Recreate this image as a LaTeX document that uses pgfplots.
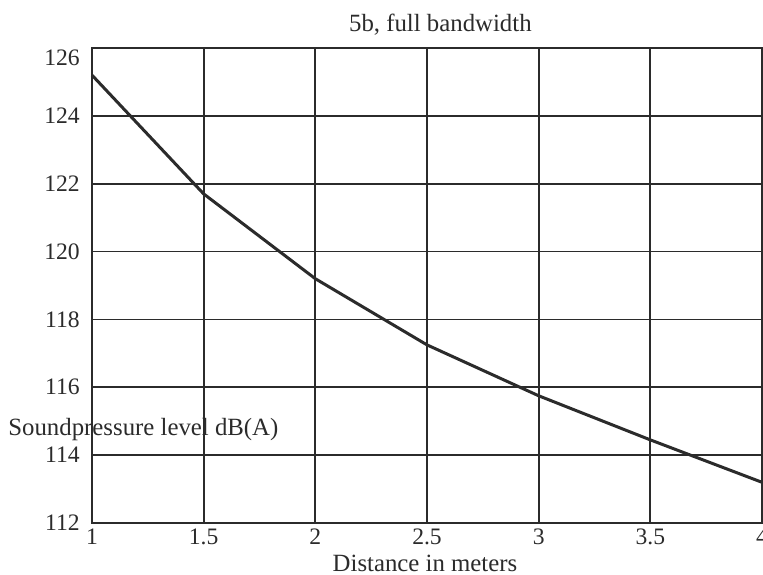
\documentclass[border=0pt]{standalone}
\usepackage{fontspec}
\setmainfont{Liberation Serif}
\usepackage{pgfplots}
\pgfplotsset{compat=1.18}
\usetikzlibrary{calc}

\definecolor{ink}{HTML}{2B2B2B}

\begin{document}
\fontsize{11.8}{14}\selectfont
\begin{tikzpicture}
\begin{axis}[
  name=ax,
  scale only axis,
  width=335pt, height=237.5pt,
  xmin=1, xmax=4, ymin=112, ymax=126,
  xtick={1,1.5,2,2.5,3,3.5,4},
  ytick={112,114,116,118,120,122,124},
  extra y ticks={126},
  extra y tick style={yticklabel style={yshift=-5pt}},
  grid=major,
  major grid style={line width=0.9pt, color=ink},
  axis line style={line width=1pt, color=ink},
  major tick length=0pt,
  tick label style={color=ink},
  yticklabel style={xshift=-2pt},
  xticklabel style={yshift=1pt},
  /pgf/number format/assume math mode=true,
  clip=false,
]
\addplot[line width=1.5pt, color=ink] coordinates {
  (1,125.2) (1.5,121.7) (2,119.2) (2.5,117.25) (3,115.75) (3.5,114.45) (4,113.2)
};
\node[anchor=base, color=ink, font=\fontsize{12.4}{14}\selectfont] at ([yshift=8.5pt]rel axis cs:0.52,1) {5b, full bandwidth};
\node[anchor=west, inner sep=0pt, color=ink, font=\fontsize{12.4}{14}\selectfont] at ([xshift=-42pt]axis cs:1,114.75) {Soundpressure level dB(A)};
\node[anchor=base, inner sep=0pt, color=ink, font=\fontsize{12.4}{14}\selectfont] at ([yshift=-24pt]rel axis cs:0.497,0) {Distance in meters};
\end{axis}
\pgfresetboundingbox
\path[use as bounding box] ([shift={(-46pt,-25.5pt)}]ax.south west) rectangle ([shift={(0.5pt,24pt)}]ax.north east);
\end{tikzpicture}
\end{document}
